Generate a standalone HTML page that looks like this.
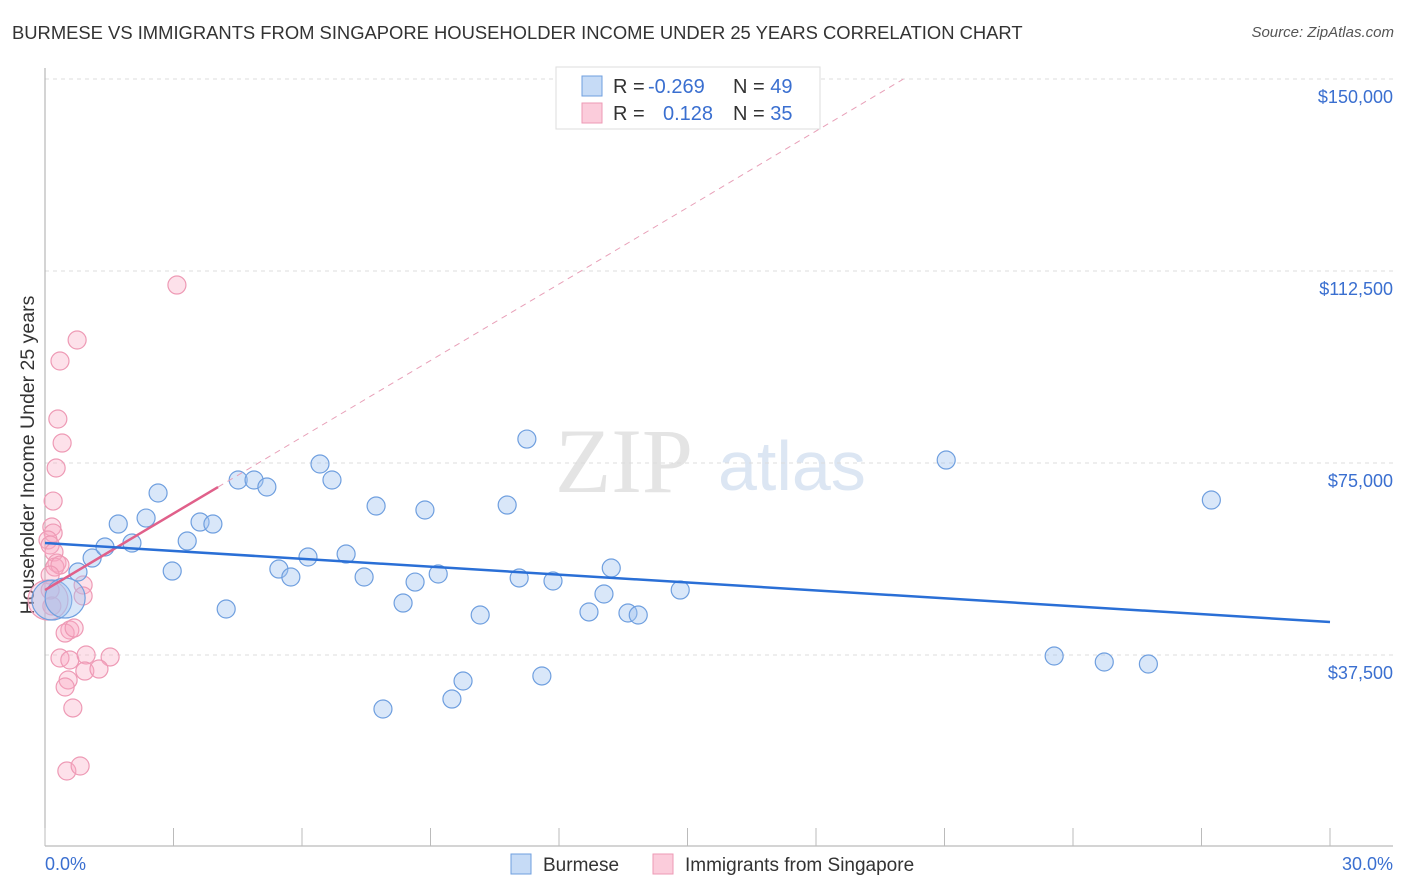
<!DOCTYPE html>
<html><head><meta charset="utf-8"><style>
body{margin:0;background:#fff;font-family:"Liberation Sans",sans-serif;}
#wrap{position:relative;width:1406px;height:892px;overflow:hidden;}
.t{position:absolute;white-space:nowrap;}
</style></head><body>
<div id="wrap">
<div class="t" style="left:12px;top:22px;font-size:18.4px;color:#333;">BURMESE VS IMMIGRANTS FROM SINGAPORE HOUSEHOLDER INCOME UNDER 25 YEARS CORRELATION CHART</div>
<div class="t" style="right:12px;top:24px;font-size:15px;color:#555;font-style:italic;">Source: ZipAtlas.com</div>
<svg id="svg" width="1406" height="892" style="position:absolute;left:0;top:0"></svg>
</div>
<script>
const blueX=[0.16,0.47,0.77,1.10,1.40,1.71,2.03,2.36,2.64,2.97,3.32,3.62,3.92,4.23,4.51,4.88,5.18,5.46,5.74,6.14,6.42,6.70,7.03,7.45,7.73,8.36,8.64,8.87,9.18,9.50,9.76,10.16,7.89,10.79,11.07,11.25,11.60,11.86,12.70,13.05,13.22,13.61,13.85,14.83,21.04,23.56,24.73,25.76,27.23];
const blueY=[48240,48630,53710,56440,58590,63080,59370,64250,69140,53900,59760,63470,63080,46480,71680,71680,70310,54290,52730,56640,74800,71680,57220,52730,66600,47650,51750,65820,53320,28900,32420,45310,26950,66790,52540,79680,33400,51950,45900,49410,54490,45700,45310,50190,75580,37300,36130,35740,67770];
const blueBig=[0,1];
const pinkX=[3.08,0.75,0.35,0.30,0.40,0.26,0.19,0.16,0.19,0.07,0.12,0.21,0.28,0.23,0.35,0.12,0.12,0.16,0.89,0.89,0.58,0.47,0.68,0.35,0.58,0.96,1.52,0.93,1.26,0.54,0.47,0.65,0.51,0.82,0.07];
const pinkY=[109760,99020,94920,83590,78900,74020,67570,62500,61320,59960,58980,57610,55460,54680,55070,53120,50190,47070,51170,49020,42380,41790,42770,36910,36520,37500,37110,34370,34760,32620,31250,27150,14840,15820,48240];
const pinkBig=[34];
const blueTrend=[59370,43940];
const pinkTrend=[50190,4980];
const yTicks=[37500,75000,112500,150000];
const yTickLabels=["$37,500","$75,000","$112,500","$150,000"];
const xTicks=[0,3,6,9,12,15,18,21,24,27,30];

const X=v=>45+v/30*1285;
const Y=v=>847-v*768/150000;
const svg=document.getElementById('svg');
const NS='http://www.w3.org/2000/svg';
function mk(tag,at,parent){const e=document.createElementNS(NS,tag);for(const k in at)e.setAttribute(k,at[k]);(parent||svg).appendChild(e);return e;}

let wm=mk('text',{x:555,y:492,'font-size':92,'font-family':'Liberation Serif',fill:'#e4e4e4'});wm.textContent='ZIP';


let wm2=mk('text',{x:718,y:490,'font-size':70,'font-family':'Liberation Sans',fill:'#dce6f3'});wm2.textContent='atlas';



yTicks.forEach((v,i)=>{
  const g=mk('line',{x1:45,x2:1393,y1:Y(v),y2:Y(v),stroke:'#dcdcdc','stroke-dasharray':'4,4'});
  
  
  const t=mk('text',{x:1393,y:Y(v)+24,'text-anchor':'end','font-size':18,fill:'#3a6fd0'});
  t.textContent=yTickLabels[i];
  
  
});
let ax=mk('line',{x1:45,x2:45,y1:68,y2:846,stroke:'#aaa'});


let bx=mk('line',{x1:45,x2:1393,y1:846,y2:846,stroke:'#aaa'});


xTicks.forEach(v=>{
  const l=mk('line',{x1:X(v),x2:X(v),y1:828,y2:846,stroke:'#bbb'});
  
  
});
let xl0=mk('text',{x:45,y:870,'font-size':18,fill:'#3a6fd0'});xl0.textContent='0.0%';


let xl1=mk('text',{x:1393,y:870,'text-anchor':'end','font-size':18,fill:'#3a6fd0'});xl1.textContent='30.0%';


let yt=mk('text',{x:34,y:455,'text-anchor':'middle','font-size':19.5,fill:'#333',transform:'rotate(-90 34 455)'});yt.textContent='Householder Income Under 25 years';



pinkX.forEach((x,i)=>{
  const c=mk('circle',{cx:X(x),cy:Y(pinkY[i]),r:pinkBig.includes(i)?20:9,fill:'rgba(248,170,195,0.35)',stroke:'#ee9ab5','stroke-width':1.2});
  
  
});
blueX.forEach((x,i)=>{
  const c=mk('circle',{cx:X(x),cy:Y(blueY[i]),r:blueBig.includes(i)?20:9,fill:'rgba(160,195,240,0.4)',stroke:'#6f9fdf','stroke-width':1.2});
  
  
});
const pxEnd=(150000-pinkTrend[0])/pinkTrend[1];
let pd=mk('line',{x1:X(4.04),y1:Y(pinkTrend[0]+pinkTrend[1]*4.04),x2:X(pxEnd),y2:Y(150000),stroke:'#e8a0b8','stroke-dasharray':'6,5','stroke-width':1});


let ps=mk('line',{x1:X(0),y1:Y(pinkTrend[0]),x2:X(4.04),y2:Y(pinkTrend[0]+pinkTrend[1]*4.04),stroke:'#e0608a','stroke-width':2.5});


let bl=mk('line',{x1:X(0),y1:Y(blueTrend[0]),x2:X(30),y2:Y(blueTrend[1]),stroke:'#2a6fd6','stroke-width':2.5});



let lb=mk('rect',{x:556,y:67,width:264,height:62,fill:'#fff',stroke:'#ddd'});


[[76,'rgba(160,195,240,0.6)','#6f9fdf','-0.269','49'],[103,'rgba(248,170,195,0.6)','#ee9ab5','0.128','35']].forEach(r=>{
  const s=mk('rect',{x:582,y:r[0],width:20,height:20,fill:r[1],stroke:r[2]});
  
  
  const t=mk('text',{x:613,y:r[0]+17,'font-size':20,fill:'#333'});
  t.innerHTML='R = <tspan fill="#3a6fd0" x="'+(r[3][0]=='-'?648:663)+'">'+r[3]+'</tspan><tspan x="733" fill="#333">N = </tspan><tspan fill="#3a6fd0">'+r[4]+'</tspan>';
  
  
});
[[511,'rgba(160,195,240,0.6)','#6f9fdf','Burmese','legend-burmese'],[653,'rgba(248,170,195,0.6)','#ee9ab5','Immigrants from Singapore','legend-singapore']].forEach(r=>{
  const s=mk('rect',{x:r[0],y:854,width:20,height:20,fill:r[1],stroke:r[2]});
  
  
  const t=mk('text',{x:r[0]+32,y:871,'font-size':19,fill:'#333'});
  t.textContent=r[3];
  
  
});
</script>
</body></html>
